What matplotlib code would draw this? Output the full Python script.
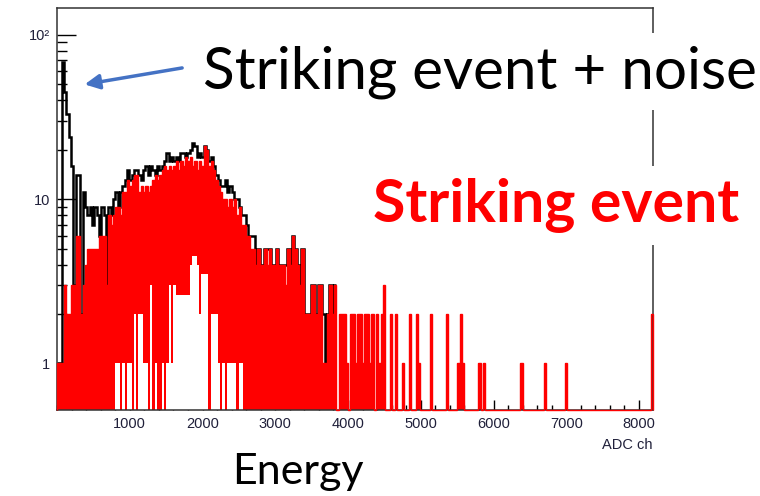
import numpy as np
import matplotlib
matplotlib.use("Agg")
import matplotlib.pyplot as plt
from matplotlib.ticker import MultipleLocator, FixedLocator, NullFormatter

# ADC spectrum, 256 bins of 32 channels
BIN_WIDTH = 32
N_BINS = 256

# counts per bin for the striking events alone
striking = [
    1, 1, 1, 3, 2, 2, 3, 3, 6, 6,
    2, 3, 4, 5, 5, 5, 5, 5, 6, 6,
    6, 3, 8, 7, 8, 9, 9, 8, 11, 11,
    13, 12, 13, 14, 14, 11, 12, 11, 12, 11,
    12, 13, 14, 13, 14, 15, 16, 15, 16, 15,
    16, 17, 15, 17, 16, 18, 17, 18, 16, 17,
    15, 17, 16, 21, 20, 16, 17, 15, 13, 12,
    11, 10, 10, 9, 10, 9, 10, 8, 9, 7,
    7, 6, 6, 5, 5, 4, 5, 4, 4, 5,
    4, 5, 4, 4, 5, 4, 4, 4, 3, 5,
    4, 6, 5, 4, 3, 5, 2, 2, 2, 3,
    3, 2, 3, 3, 1, 1, 2, 3, 2, 3,
    0, 2, 2, 2, 1, 0, 2, 2, 1, 2,
    2, 1, 2, 2, 1, 2, 0, 2, 1, 2,
    3, 0, 0, 2, 0, 2, 0, 0, 1, 0,
    0, 2, 0, 0, 2, 1, 0, 0, 0, 0,
    2, 0, 0, 0, 0, 0, 0, 2, 0, 0,
    0, 0, 1, 2, 1, 0, 0, 0, 0, 0,
    0, 1, 0, 1, 0, 0, 0, 0, 0, 0,
    0, 0, 0, 0, 0, 0, 0, 0, 0, 1,
    0, 0, 0, 0, 0, 0, 0, 0, 0, 1,
    0, 0, 0, 0, 0, 0, 0, 0, 1, 0,
    0, 0, 0, 0, 0, 0, 0, 0, 0, 0,
    0, 0, 0, 0, 0, 0, 0, 0, 0, 0,
    0, 0, 0, 0, 0, 0, 0, 0, 0, 0,
    0, 0, 0, 0, 0, 2,
]

# striking events + noise, first 120 bins (above that the noise is gone)
total_head = [
    1, 1, 68, 45, 33, 24, 16, 3, 14, 14,
    2, 11, 9, 8, 9, 7, 9, 8, 6, 9,
    8, 3, 9, 8, 10, 11, 9, 11, 12, 13,
    15, 13, 14, 15, 15, 14, 13, 15, 16, 14,
    16, 15, 14, 16, 15, 16, 17, 19, 17, 18,
    17, 18, 17, 19, 19, 18, 19, 20, 22, 21,
    18, 19, 18, 21, 20, 17, 18, 16, 14, 13,
    12, 12, 13, 11, 12, 11, 10, 10, 9, 8,
    8, 7, 6, 6, 6, 4, 5, 4, 4, 5,
    5, 5, 4, 4, 5, 4, 4, 4, 4, 5,
    4, 6, 5, 4, 3, 5, 2, 2, 2, 3,
    3, 2, 3, 3, 2, 1, 2, 3, 2, 3,
]

# unfilled pockets under the red area (log-scale fill), first 81 bins
fill_gaps = [
    0, 0, 0, 0, 0, 0, 0, 0, 0, 0,
    0, 0, 0, 0, 0, 0, 0, 0, 0, 0,
    0, 0, 0, 0, 0, 1, 1, 0, 1, 0,
    1, 1, 0, 2, 0, 2, 2, 1, 1, 0,
    3, 0, 1, 0, 0, 1, 0, 1, 3, 1,
    3, 2.6, 2.6, 2.6, 2.6, 2.6, 2.6, 4, 4.5, 4.5,
    4, 2, 3.5, 3.5, 3.5, 0, 2, 2, 2, 1,
    0, 1, 0, 1, 1, 1, 1, 0, 1, 1,
    0,
]

Y_MIN, Y_MAX = 0.52, 146
X_MAX = N_BINS * BIN_WIDTH

edges = np.arange(N_BINS + 1) * BIN_WIDTH
red = np.array(striking, dtype=float)
black = np.array(total_head, dtype=float)
gaps = np.zeros(N_BINS)
gaps[:len(fill_gaps)] = fill_gaps


def on_log(v):
    # empty bins sit on the bottom of the frame
    return np.where(v > 0, v, Y_MIN)


fig = plt.figure(figsize=(7.6, 4.96), dpi=100)
ax = fig.add_axes([57 / 760, 86 / 496, 596 / 760, 402 / 496])
ax.set_yscale("log")
ax.set_axisbelow(True)

# noise + signal outline, only where the noise shows above the signal
ax.stairs(on_log(black), edges[:len(black) + 1], baseline=None, fill=False,
          color="black", lw=1.8, zorder=2)
ax.stairs(on_log(red), edges, baseline=Y_MIN, fill=True,
          color="#ff0000", lw=0, zorder=3)
ax.stairs(on_log(gaps), edges, baseline=Y_MIN, fill=True,
          color="white", lw=0, zorder=3.2)
ax.stairs(on_log(red), edges, baseline=Y_MIN, fill=False,
          color="#ff0000", lw=1.0, zorder=4, clip_on=False)

ax.set_xlim(0, X_MAX)
ax.set_ylim(Y_MIN, Y_MAX)

# ROOT-like frame and ticks
for side, sp in ax.spines.items():
    sp.set_color("#333333")
    sp.set_linewidth(1.1)
    sp.set_zorder(3.5)

tick_color = "#20203a"
ax.xaxis.set_major_locator(MultipleLocator(1000))
ax.xaxis.set_minor_locator(MultipleLocator(200))
ax.set_xticks(np.arange(1000, 9000, 1000))
ax.set_xticklabels([str(v) for v in range(1000, 9000, 1000)])
ax.tick_params(axis="x", which="major", direction="in", length=7, width=1,
               pad=5, labelsize=10.5, labelcolor=tick_color)
ax.tick_params(axis="x", which="minor", direction="in", length=3.6, width=1)

ax.yaxis.set_major_locator(FixedLocator([1, 10, 100]))
ax.set_yticklabels(["1", "10", "10²"])
minor_y = [m * d for d in (0.1, 1, 10) for m in range(2, 10)]
ax.yaxis.set_minor_locator(FixedLocator(minor_y))
ax.yaxis.set_minor_formatter(NullFormatter())
ax.tick_params(axis="y", which="major", direction="in", length=13.5, width=1,
               pad=5, labelsize=10.5, labelcolor=tick_color)
ax.tick_params(axis="y", which="minor", direction="in", length=7, width=1)
for lab in ax.get_xticklabels() + ax.get_yticklabels():
    lab.set_fontfamily("Liberation Sans")

fig.text(653 / 760, 1 - 449 / 496, "ADC ch", ha="right", va="baseline",
         fontsize=10.5, color=tick_color, family="Liberation Sans")

# annotations
ax.annotate("", xy=(380, 50), xytext=(1720, 63),
            arrowprops=dict(arrowstyle="-|>", color="#4472C4", lw=2.5,
                            mutation_scale=22, shrinkA=0, shrinkB=0),
            zorder=6)

fig.text(203 / 760, 1 - 88 / 496, "Striking event + noise", ha="left",
         va="baseline", fontsize=42, family="Lato", color="black",
         bbox=dict(boxstyle="square,pad=0.2", fc="white", ec="none"))
fig.text(373 / 760, 1 - 222 / 496, "Striking event", ha="left",
         va="baseline", fontsize=42.5, family="Lato", weight="bold",
         color="#ff0000",
         bbox=dict(boxstyle="square,pad=0.2", fc="white", ec="none"))
fig.text(298 / 760, 1 - 484 / 496, "Energy", ha="center", va="baseline",
         fontsize=31, family="Lato", color="black")

fig.savefig("out.png", dpi=100, facecolor="white")
